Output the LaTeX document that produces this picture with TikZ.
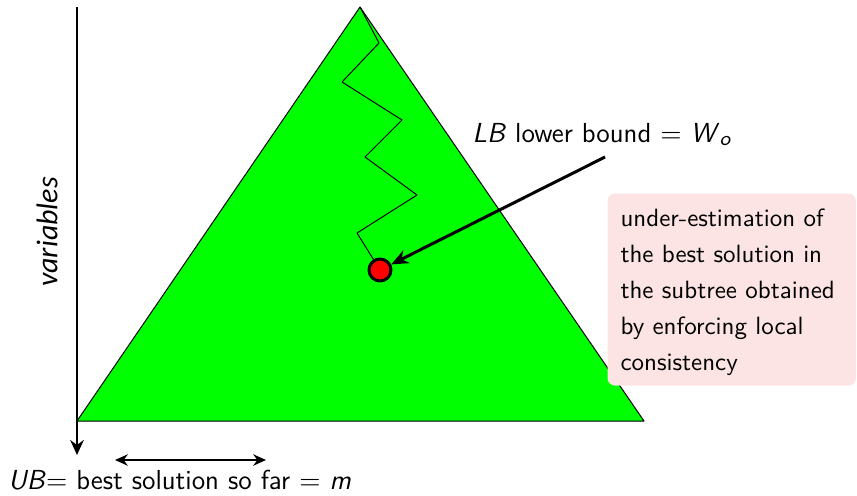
\documentclass[tikz,border=0pt]{standalone}
\usepackage{fontspec}
\newfontfamily\calfont{Carlito}
\usepackage{tikz}
\usetikzlibrary{arrows.meta,positioning}
\definecolor{treegreen}{HTML}{00FF00}
\definecolor{bndred}{HTML}{FF0000}
\definecolor{notepink}{HTML}{FCE4E4}
\tikzset{
  every picture/.style={line join=round},
  lbl/.style={font=\sffamily\fontsize{11}{13}\selectfont, text=black, inner sep=0pt},
  tree/.style={fill=treegreen, draw=black, line width=0.4pt},
  walk/.style={black, line width=0.4pt},
  axisline/.style={line width=1pt, -{Stealth[length=2.1mm,width=1.9mm]}},
  spanline/.style={line width=0.8pt, {Stealth[length=1.8mm,width=1.6mm]}-{Stealth[length=1.8mm,width=1.6mm]}},
  bndarrow/.style={line width=1.2pt, -{Stealth[length=2.4mm,width=2mm]}},
  bnddot/.style={circle, fill=bndred, draw=black, line width=1.2pt, minimum size=8.8pt, inner sep=0pt},
  notebox/.style={fill=notepink, rounded corners=3pt,
    font=\sffamily\fontsize{10}{14.4}\selectfont\addfontfeature{LetterSpace=2},
    align=left, text width=89pt, inner xsep=5.2pt, minimum height=76.8pt},
}
\begin{document}
\begin{tikzpicture}[x=0.4pt, y=-0.4pt]
\useasboundingbox (0,0) rectangle (857,495);
% search tree
\coordinate (apex) at (360,7);
\draw[tree] (apex) -- (644,421) -- (77,421) -- cycle;
% lower bound at the current node
\node[bnddot] (lb) at (380,270) {};
\draw[walk] (apex) -- (379,43) -- (342,82) -- (402,120) -- (365,157)
  -- (417,195) -- (357,233) -- (lb);
\node[lbl, anchor=base west, font=\sffamily\fontsize{11}{13}\selectfont\addfontfeature{LetterSpace=3}] (lbtext) at (472,142)
  {\textit{LB} lower bound $=$ \textit{W}\raisebox{-0.3ex}{\footnotesize\textit{o}}};
\coordinate (lbtail) at (605,157);
\draw[bndarrow] (lbtail) -- (lb);
\node[notebox, anchor=north west] (note) at (607,193)
  {\rule{0pt}{9pt}under-estimation of\\ the best solution in\\ the subtree obtained\\
   by enforcing local\\ consistency};
% variables axis
\coordinate (axtop) at (77,7);
\coordinate (axbot) at (77,455);
\draw[axisline] (axtop) -- (axbot);
\node[rotate=90, font=\calfont\itshape\large, inner sep=0pt] (vars) at (47,232) {variables};
% upper bound
\coordinate (spanl) at (115,460);
\coordinate (spanr) at (266,460);
\draw[spanline] (spanl) -- (spanr);
\node[lbl, anchor=base west] (ub) at (8,489)
  {\textit{UB}$=$ best solution so far $=$ \textit{m}};
\end{tikzpicture}
\end{document}
